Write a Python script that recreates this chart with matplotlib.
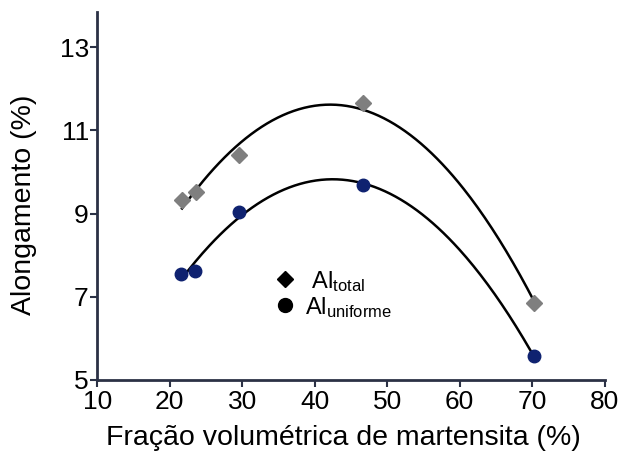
import numpy as np
import matplotlib.pyplot as plt
from matplotlib.lines import Line2D

plt.rcParams['font.family'] = ['Liberation Sans', 'DejaVu Sans']
plt.rcParams['mathtext.fontset'] = 'custom'
plt.rcParams['mathtext.rm'] = 'Liberation Sans'
plt.rcParams['mathtext.it'] = 'Liberation Sans'

# data
frac_total = [21.7, 23.6, 29.6, 46.6, 70.3]
al_total = [9.33, 9.51, 10.40, 11.66, 6.84]
frac_unif = [21.6, 23.5, 29.5, 46.6, 70.2]
al_unif = [7.54, 7.61, 9.03, 9.69, 5.58]

x_ticks = [10, 20, 30, 40, 50, 60, 70, 80]
y_ticks = [5, 7, 9, 11, 13]

spine_col = '#2b3145'

fig = plt.figure(figsize=(6.19, 4.55), dpi=100)
ax = fig.add_axes([0.157, 0.165, 0.820, 0.809])

# second-order fits
for xs, ys in [(frac_total, al_total), (frac_unif, al_unif)]:
    c = np.polyfit(xs, ys, 2)
    xx = np.linspace(min(xs), max(xs), 200)
    ax.plot(xx, np.polyval(c, xx), color='black', lw=1.8, zorder=2)

ax.plot(frac_total, al_total, 'D', color='#7f7f7f', ms=8, zorder=3)
ax.plot(frac_unif, al_unif, 'o', color='#0f2270', ms=9, zorder=3)

handles = [
    Line2D([], [], marker='D', color='black', ls='none', ms=8),
    Line2D([], [], marker='o', color='black', ls='none', ms=10),
]
ax.legend(handles, [r' Al$_{\mathrm{total}}$', r'Al$_{\mathrm{uniforme}}$'],
          loc='upper left', bbox_to_anchor=(0.30, 0.36), frameon=False,
          fontsize=17, handletextpad=0.25, labelspacing=0.05,
          handlelength=1.2)

ax.set_xlim(10, 80)
ax.set_ylim(5, 13.85)
ax.set_xticks(x_ticks)
ax.set_yticks(y_ticks)
ax.tick_params(labelsize=19, length=5, width=1.5, color=spine_col, pad=1)
ax.tick_params(axis='x', pad=2)
for s in ['top', 'right']:
    ax.spines[s].set_visible(False)
for s in ['left', 'bottom']:
    ax.spines[s].set_linewidth(2)
    ax.spines[s].set_color(spine_col)

ax.set_xlabel('Fração volumétrica de martensita (%)', fontsize=20.5)
ax.set_ylabel('Alongamento (%)', fontsize=20.5)
ax.xaxis.set_label_coords(0.486, -0.122)
ax.yaxis.set_label_coords(-0.118, 0.476)

fig.savefig('out.png', dpi=100)
